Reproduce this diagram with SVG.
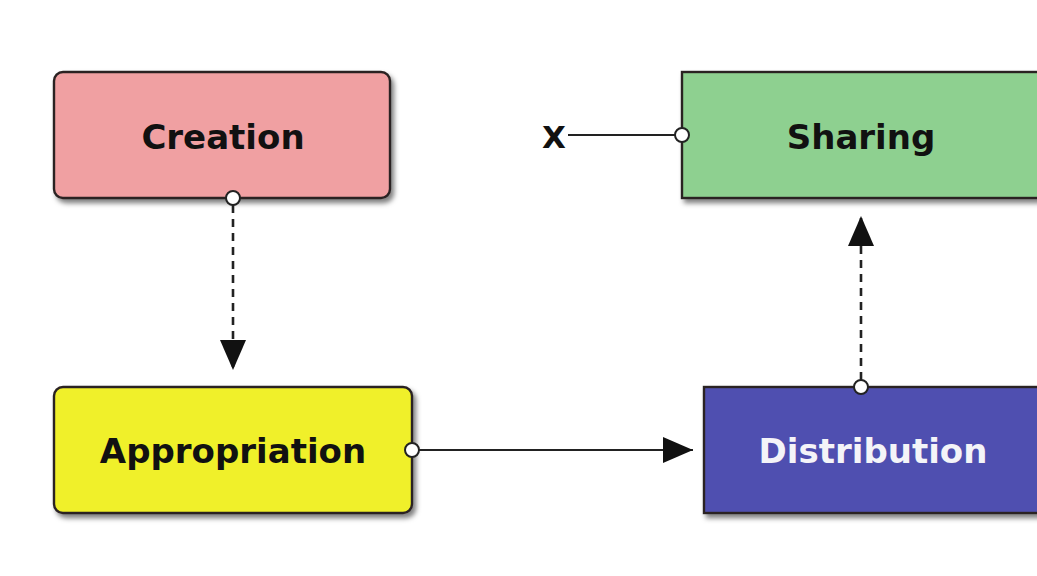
<svg xmlns="http://www.w3.org/2000/svg" width="1037" height="576" viewBox="0 0 1037 576">
<defs>
<filter id="sh" x="-10%" y="-10%" width="130%" height="140%">
<feDropShadow dx="3" dy="4" stdDeviation="2.5" flood-color="#000" flood-opacity="0.5"/>
</filter>
<marker id="arr" markerUnits="userSpaceOnUse" markerWidth="34" markerHeight="28" refX="30" refY="13" orient="auto">
<path d="M0,0 L30,13 L0,26 Z" fill="#111"/>
</marker>
<style>
.box{stroke:#2a2222;stroke-width:2.4;filter:url(#sh)}
.lbl{font-family:"DejaVu Sans",sans-serif;font-weight:bold;font-size:34px;text-anchor:middle}
.ln{stroke:#222;stroke-width:2.2;fill:none}
.dash{stroke-dasharray:8 6;stroke-width:2.6}
.port{fill:#fff;stroke:#222;stroke-width:2}
</style>
</defs>
<rect width="1037" height="576" fill="#fff"/>
<g id="creation">
<rect class="box" x="54" y="72" width="336" height="126" rx="9" fill="#f0a0a2"/>
<text class="lbl" x="223" y="149" fill="#111">Creation</text>
</g>
<g id="sharing">
<rect class="box" x="682" y="72" width="370" height="126" fill="#8ed090"/>
<text class="lbl" x="861" y="149" fill="#111">Sharing</text>
</g>
<g id="appropriation">
<rect class="box" x="54" y="387" width="358" height="126" rx="9" fill="#f0f02a"/>
<text class="lbl" x="233" y="463" fill="#111">Appropriation</text>
</g>
<g id="distribution">
<rect class="box" x="704" y="387" width="350" height="126" fill="#5050b0"/>
<text class="lbl" x="873" y="463" fill="#f4f4f8">Distribution</text>
</g>
<g id="x-label">
<text class="lbl" x="554" y="148" fill="#111" style="font-size:31px">X</text>
</g>
<g id="connectors">
<path class="ln dash" d="M233,205 L233,370" marker-end="url(#arr)"/>
<path class="ln" d="M419,450 L693,450" marker-end="url(#arr)"/>
<path class="ln dash" d="M861,380 L861,216" marker-end="url(#arr)"/>
<path class="ln" d="M568,135 L675,135"/>
<circle class="port" cx="233" cy="198" r="7"/>
<circle class="port" cx="412" cy="450" r="7"/>
<circle class="port" cx="861" cy="387" r="7"/>
<circle class="port" cx="682" cy="135" r="7"/>
</g>
</svg>
